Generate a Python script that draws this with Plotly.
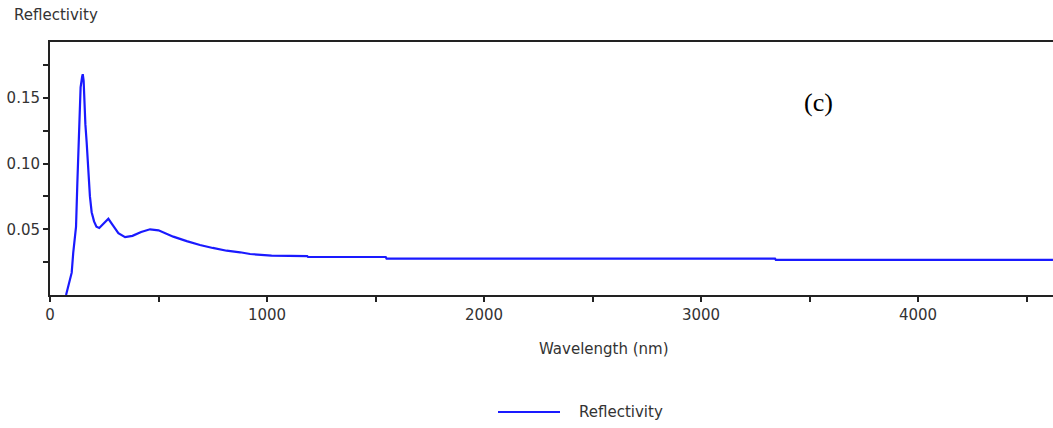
import plotly.graph_objects as go

wavelength = [74, 84, 100, 107, 115, 120, 126, 131, 135, 141, 148, 151, 155, 158, 163, 169, 177,
              184, 192, 203, 214, 227, 245, 269, 290, 315, 346, 380, 420, 461, 500, 568, 630,
              691, 750, 814, 876, 922, 1021, 1185, 1189, 1547, 1551, 2000, 2500, 3000, 3341,
              3345, 4000, 4622]
reflectivity = [0.0, 0.006, 0.017, 0.032, 0.045, 0.052, 0.085, 0.105, 0.130, 0.158, 0.166, 0.168,
                0.163, 0.148, 0.130, 0.116, 0.093, 0.075, 0.063, 0.056, 0.052, 0.051, 0.054,
                0.058, 0.053, 0.047, 0.044, 0.045, 0.048, 0.050, 0.0492, 0.0444, 0.041, 0.038,
                0.0358, 0.0337, 0.0325, 0.0312, 0.030, 0.0296, 0.0289, 0.0289, 0.0277, 0.0277,
                0.0277, 0.0277, 0.0277, 0.0267, 0.0267, 0.0267]

x_ticks = [0, 1000, 2000, 3000, 4000]
x_minor = [500, 1500, 2500, 3500, 4500]
y_ticks = [0.05, 0.10, 0.15]
y_ticktext = ["0.05", "0.10", "0.15"]
y_minor = [0.025, 0.075, 0.125, 0.175]

FONT = "DejaVu Sans"
FS = 15
W, H = 1053, 428
L, T, B = 50, 42, 133
plot_w = W - L
plot_h = H - T - B

def px(x):
    return (x - L) / plot_w

def py(y):
    return (H - B - y) / plot_h

fig = go.Figure()
fig.add_trace(go.Scatter(x=wavelength, y=reflectivity, mode="lines", name="Reflectivity",
                         line=dict(color="#1a1aff", width=2.2), showlegend=False))

axis_common = dict(showgrid=False, zeroline=False, showline=True, linecolor="#222222", linewidth=2,
                   ticks="outside", ticklen=5, tickwidth=1.5, tickcolor="#222222",
                   tickfont=dict(family=FONT, size=FS, color="#333333"))

fig.update_layout(
    width=W, height=H,
    margin=dict(l=L, r=0, t=T, b=B),
    paper_bgcolor="white", plot_bgcolor="white",
    font=dict(family=FONT, size=FS, color="#333333"),
    xaxis=dict(range=[0, plot_w / 217 * 1000], tickvals=x_ticks, mirror=True,
               minor=dict(tickvals=x_minor, ticks="outside", ticklen=5, tickwidth=1.5, tickcolor="#222222"),
               **axis_common),
    yaxis=dict(range=[0, 0.1925], tickvals=y_ticks, ticktext=y_ticktext,
               minor=dict(tickvals=y_minor, ticks="outside", ticklen=5, tickwidth=1.5, tickcolor="#222222"),
               **axis_common),
)

fig.add_annotation(text="Reflectivity", xref="paper", yref="paper", x=px(12), y=py(15),
                   xanchor="left", yanchor="middle", showarrow=False,
                   font=dict(family=FONT, size=FS, color="#333333"))
fig.add_annotation(text="Wavelength (nm)", xref="paper", yref="paper", x=px(604), y=py(349),
                   xanchor="center", yanchor="middle", showarrow=False,
                   font=dict(family=FONT, size=FS, color="#333333"))
fig.add_annotation(text="(c)", xref="paper", yref="paper", x=px(818), y=py(102),
                   xanchor="center", yanchor="middle", showarrow=False,
                   font=dict(family="Liberation Serif", size=26, color="black"))
# legend
fig.add_shape(type="line", xref="paper", yref="paper", x0=px(498), x1=px(560), y0=py(412), y1=py(412),
              line=dict(color="#1a1aff", width=2))
fig.add_annotation(text="Reflectivity", xref="paper", yref="paper", x=px(577), y=py(412),
                   xanchor="left", yanchor="middle", showarrow=False,
                   font=dict(family=FONT, size=FS, color="#333333"))

fig.write_html("out.html")
